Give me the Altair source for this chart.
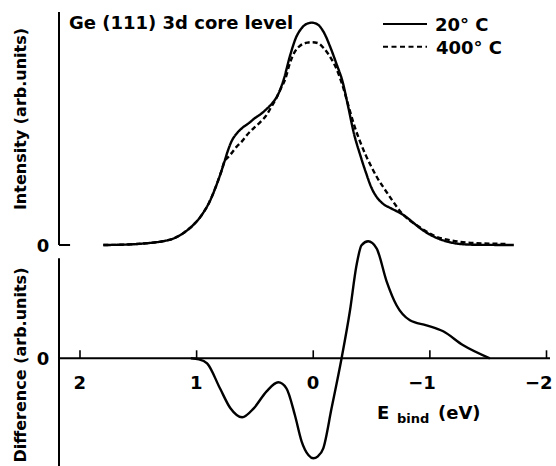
import altair as alt
import pandas as pd

# ---------------- data ----------------
# Top panel: Ge(111) 3d core level, intensity (arb. units, 20 °C peak = 1)
e_20 = [1.80, 1.60, 1.45, 1.30, 1.20, 1.10, 1.02, 0.95, 0.89, 0.83, 0.79, 0.76,
        0.73, 0.70, 0.66, 0.61, 0.55, 0.50, 0.45, 0.40, 0.35, 0.30, 0.25, 0.20,
        0.15, 0.10, 0.05, 0.01, -0.04, -0.09, -0.146, -0.20, -0.25, -0.30,
        -0.35, -0.40, -0.45, -0.50, -0.55, -0.60, -0.66, -0.72, -0.78, -0.85,
        -0.92, -1.00, -1.08, -1.16, -1.25, -1.40, -1.72]
i_20 = [0.0, 0.002, 0.007, 0.016, 0.029, 0.059, 0.095, 0.140, 0.194, 0.270,
        0.329, 0.378, 0.428, 0.468, 0.500, 0.527, 0.550, 0.572, 0.590, 0.613,
        0.640, 0.680, 0.752, 0.851, 0.932, 0.977, 0.998, 1.002, 0.993, 0.959,
        0.892, 0.815, 0.739, 0.622, 0.500, 0.410, 0.329, 0.257, 0.212, 0.185,
        0.167, 0.151, 0.133, 0.104, 0.074, 0.047, 0.027, 0.014, 0.005, 0.001,
        0.0]

e_400 = [1.80, 1.60, 1.45, 1.30, 1.20, 1.10, 1.02, 0.95, 0.89, 0.83, 0.79, 0.76,
         0.73, 0.70, 0.66, 0.61, 0.57, 0.51, 0.454, 0.40, 0.36, 0.32, 0.28, 0.24,
         0.20, 0.16, 0.11, 0.05, 0.01, -0.04, -0.09, -0.146, -0.20, -0.25, -0.30,
         -0.35, -0.40, -0.45, -0.50, -0.55, -0.60, -0.67, -0.75, -0.82, -0.89,
         -0.97, -1.06, -1.16, -1.26, -1.45, -1.65]
i_400 = [0.0, 0.002, 0.007, 0.016, 0.029, 0.059, 0.095, 0.140, 0.194, 0.270,
         0.329, 0.378, 0.396, 0.414, 0.441, 0.468, 0.495, 0.527, 0.554, 0.586,
         0.622, 0.658, 0.703, 0.748, 0.820, 0.869, 0.899, 0.912, 0.914, 0.910,
         0.887, 0.847, 0.793, 0.721, 0.631, 0.541, 0.468, 0.405, 0.351, 0.302,
         0.261, 0.207, 0.149, 0.113, 0.088, 0.061, 0.036, 0.023, 0.014, 0.007,
         0.005]

# Bottom panel: difference spectrum (arb. units)
e_diff = [1.05, 0.98, 0.91, 0.80, 0.71, 0.61, 0.51, 0.40, 0.30, 0.23, 0.157,
          0.10, 0.04, 0.0, -0.04, -0.086, -0.157, -0.243, -0.314, -0.371,
          -0.414, -0.471, -0.543, -0.629, -0.714, -0.829, -0.971, -1.114,
          -1.286, -1.514]
d_diff = [0.0, -0.01, -0.05, -0.30, -0.50, -0.59, -0.50, -0.33, -0.24, -0.30,
          -0.57, -0.83, -0.97, -1.00, -0.98, -0.90, -0.50, 0.0, 0.47, 0.93,
          1.13, 1.17, 1.10, 0.77, 0.53, 0.38, 0.33, 0.27, 0.13, 0.0]

series_names = ["20° C", "400° C"]
x_ticks = [2, 1, 0, -1, -2]
x_tick_labels = ["2", "1", "0", "−1", "−2"]

# ---------------- tables ----------------
df_top = pd.concat([
    pd.DataFrame({"E": e_20, "I": i_20, "series": series_names[0]}),
    pd.DataFrame({"E": e_400, "I": i_400, "series": series_names[1]}),
])
df_diff = pd.DataFrame({"E": e_diff, "D": d_diff})
df_ticks = pd.DataFrame({"E": x_ticks, "label": x_tick_labels})
one = pd.DataFrame({"_": [0]})

# ---------------- scales ----------------
FONT = "DejaVu Sans"
X_LEFT, X_RIGHT = 2.18, -2.03
XS = alt.Scale(domain=[X_LEFT, X_RIGHT], nice=False, zero=False)
TOP = alt.Scale(domain=[0, 1.05], range=[233, 0], nice=False, zero=False)
BOT = alt.Scale(domain=[-1, 1], range=[446.3, 246.3], nice=False, zero=False)

def xd(v):
    return alt.XDatum(v, type="quantitative", scale=XS, axis=None)

# ---------------- layers ----------------
top_lines = alt.Chart(df_top).mark_line(
    color="black", strokeWidth=2.4, interpolate="monotone"
).encode(
    x=alt.X("E:Q", scale=XS, axis=None),
    y=alt.Y("I:Q", scale=TOP, axis=None),
    strokeDash=alt.StrokeDash(
        "series:N",
        scale=alt.Scale(domain=series_names, range=[[1, 0], [5, 3]]),
        legend=None,
    ),
    order=alt.Order("E:Q", sort="descending"),
)

diff_line = alt.Chart(df_diff).mark_line(
    color="black", strokeWidth=2.4, interpolate="monotone"
).encode(
    x=alt.X("E:Q", scale=XS, axis=None),
    y=alt.Y("D:Q", scale=BOT, axis=None),
    order=alt.Order("E:Q", sort="descending"),
)

# axes drawn by hand
top_yaxis = alt.Chart(one).mark_rule(color="black", strokeWidth=2).encode(
    x=xd(X_LEFT),
    y=alt.YDatum(0, type="quantitative", scale=TOP, axis=None),
    y2=alt.Y2Datum(1.05),
)
top_zero_tick = alt.Chart(one).mark_rule(color="black", strokeWidth=2).encode(
    x=xd(X_LEFT),
    x2=alt.X2Datum(X_LEFT - 0.095),
    y=alt.YDatum(0, type="quantitative", scale=TOP, axis=None),
)
bot_yaxis = alt.Chart(one).mark_rule(color="black", strokeWidth=2).encode(
    x=xd(X_LEFT),
    y=alt.YDatum(1.0, type="quantitative", scale=BOT, axis=None),
    y2=alt.Y2Datum(-1.4),
)
bot_xaxis = alt.Chart(one).mark_rule(color="black", strokeWidth=2).encode(
    x=xd(X_LEFT),
    x2=alt.X2Datum(X_RIGHT),
    y=alt.YDatum(0, type="quantitative", scale=BOT, axis=None),
)
bot_ticks = alt.Chart(df_ticks).mark_rule(color="black", strokeWidth=1.6).encode(
    x=alt.X("E:Q", scale=XS, axis=None),
    y=alt.YDatum(0, type="quantitative", scale=BOT, axis=None),
    y2=alt.Y2Datum(0.08),
)
bot_tick_labels = alt.Chart(df_ticks).mark_text(
    font=FONT, fontWeight="bold", fontSize=18, align="right", dx=6, dy=31,
    baseline="alphabetic", color="black",
).encode(
    x=alt.X("E:Q", scale=XS, axis=None),
    y=alt.YDatum(0, type="quantitative", scale=BOT, axis=None),
    text="label:N",
)
top_zero_label = alt.Chart(one).mark_text(
    font=FONT, fontWeight="bold", fontSize=18, align="center", dx=-16, dy=6.5,
    baseline="alphabetic", color="black",
).encode(
    x=xd(X_LEFT),
    y=alt.YDatum(0, type="quantitative", scale=TOP, axis=None),
    text=alt.value("0"),
)
bot_zero_label = alt.Chart(one).mark_text(
    font=FONT, fontWeight="bold", fontSize=18, align="center", dx=-16, dy=6.5,
    baseline="alphabetic", color="black",
).encode(
    x=xd(X_LEFT),
    y=alt.YDatum(0, type="quantitative", scale=BOT, axis=None),
    text=alt.value("0"),
)

def label(txt, x, y, size=18, align="left", angle=0):
    return alt.Chart(one).mark_text(
        font=FONT, fontWeight="bold", fontSize=size, align=align,
        baseline="alphabetic", angle=angle, color="black",
    ).encode(x=alt.value(x), y=alt.value(y), text=alt.value(txt))

panel_title = label("Ge (111) 3d core level", 10, 16.5)
y_title_top = label("Intensity (arb.units)", -33, 107, size=16, align="center", angle=270)
y_title_bot = label("Difference (arb.units)", -33, 353, size=16, align="center", angle=270)
x_title_e = label("E", 318, 407)
x_title_sub = label("bind", 338, 411, size=13)
x_title_unit = label("(eV)", 379, 407)

leg_solid = alt.Chart(one).mark_rule(color="black", strokeWidth=2).encode(
    x=alt.value(324), x2=alt.value(368), y=alt.value(12)
)
leg_dash = alt.Chart(one).mark_rule(color="black", strokeWidth=2, strokeDash=[5, 3.5]).encode(
    x=alt.value(324), x2=alt.value(368), y=alt.value(34.7)
)
leg_t1 = label(series_names[0], 376, 19)
leg_t2 = label(series_names[1], 377, 41.5)

chart = alt.layer(
    top_yaxis, top_zero_tick, bot_yaxis, bot_xaxis, bot_ticks,
    top_lines, diff_line,
    bot_tick_labels, top_zero_label, bot_zero_label,
    panel_title, y_title_top, y_title_bot, x_title_e, x_title_sub, x_title_unit,
    leg_solid, leg_dash, leg_t1, leg_t2,
).resolve_scale(
    y="independent"
).properties(
    width=491, height=454,
    padding={"left": 59, "top": 12, "right": 6, "bottom": 0},
    autosize=alt.AutoSizeParams(type="none"),
    background="white",
).configure_view(stroke=None)

chart.save("out.html", embed_options={"renderer": "svg", "actions": False})
